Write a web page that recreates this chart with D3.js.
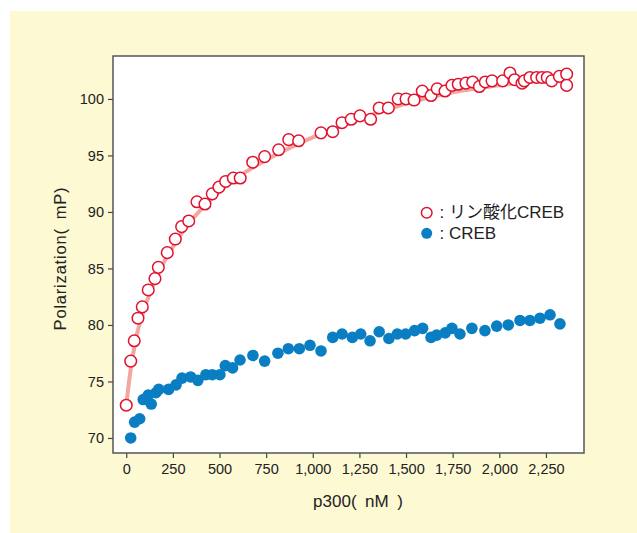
<!DOCTYPE html>
<html>
<head>
<meta charset="utf-8">
<script src="https://cdn.jsdelivr.net/npm/d3@7"></script>
<style>
  html, body { margin: 0; padding: 0; background: #ffffff; }
  svg { display: block; }
  text { font-family: "Liberation Sans", Arial, "Noto Sans CJK JP", sans-serif; fill: #222; }
</style>
</head>
<body>
<script>
// Phosphorylated CREB binding to p300 (open red circles)
const phosX = [0, 24, 43, 63, 86, 118, 154, 172, 220, 263, 297, 335, 379, 422, 461, 497, 533, 574, 611,
  678, 742, 817, 871, 924, 1044, 1107, 1157, 1206, 1253, 1310, 1356, 1405, 1458, 1500, 1543, 1587, 1634,
  1667, 1709, 1746, 1780, 1821, 1857, 1893, 1925, 1961, 2018, 2057, 2082, 2122, 2134, 2164, 2200, 2229,
  2257, 2281, 2322, 2361, 2361];
const phosY = [72.9, 76.8, 78.6, 80.6, 81.6, 83.1, 84.1, 85.1, 86.4, 87.6, 88.7, 89.2, 90.9, 90.7, 91.6,
  92.2, 92.7, 93.0, 93.0, 94.4, 94.9, 95.5, 96.4, 96.3, 97.0, 97.1, 97.9, 98.2, 98.5, 98.2, 99.2, 99.2,
  100.0, 100.0, 99.9, 100.7, 100.3, 100.9, 100.7, 101.2, 101.3, 101.4, 101.5, 101.1, 101.5, 101.6, 101.6,
  102.3, 101.7, 101.4, 101.6, 101.9, 101.9, 101.9, 101.9, 101.6, 102.0, 102.2, 101.2];

// Unphosphorylated CREB (filled blue circles)
const crebX = [24, 45, 72, 91, 118, 134, 159, 174, 227, 267, 299, 345, 384, 427, 461, 502, 531, 570, 610,
  679, 742, 813, 869, 928, 985, 1044, 1107, 1157, 1212, 1257, 1307, 1356, 1408, 1453, 1498, 1546, 1589,
  1634, 1664, 1710, 1746, 1789, 1853, 1923, 1986, 2048, 2111, 2164, 2218, 2272, 2325];
const crebY = [70.0, 71.4, 71.7, 73.4, 73.8, 73.0, 74.0, 74.3, 74.3, 74.7, 75.3, 75.4, 75.1, 75.6, 75.6,
  75.6, 76.4, 76.2, 76.9, 77.3, 76.8, 77.5, 77.9, 77.9, 78.2, 77.7, 78.9, 79.2, 78.9, 79.2, 78.6, 79.4,
  78.8, 79.2, 79.2, 79.5, 79.7, 78.9, 79.1, 79.3, 79.7, 79.2, 79.7, 79.5, 79.9, 80.0, 80.4, 80.4, 80.6,
  80.9, 80.1];

// Binding curve drawn through the phosphorylated series
const fitX = [0, 25, 50, 100, 150, 200, 250, 300, 400, 500, 600, 750, 1000, 1250, 1500, 1750, 2000, 2250, 2370];
const fitY = [72.9, 76.2, 78.6, 81.6, 83.7, 85.5, 86.9, 88.2, 90.2, 91.8, 93.1, 94.6, 96.6, 98.2, 99.6, 100.6, 101.2, 101.7, 101.9];

const xTicks = [0, 250, 500, 750, 1000, 1250, 1500, 1750, 2000, 2250];
const yTicks = [70, 75, 80, 85, 90, 95, 100];
const legendLabels = [": リン酸化CREB", ": CREB"];

const W = 637, H = 533;
const plot = { left: 113, right: 584, top: 56, bottom: 453 };

const svg = d3.select("body").append("svg").attr("width", W).attr("height", H);

svg.append("rect").attr("x", 10).attr("y", 11).attr("width", W - 10).attr("height", H - 11)
  .attr("fill", "#fdf9d3");
svg.append("rect").attr("x", plot.left).attr("y", plot.top)
  .attr("width", plot.right - plot.left).attr("height", plot.bottom - plot.top)
  .attr("fill", "#ffffff");

const x = d3.scaleLinear().domain([-71, 2454]).range([plot.left, plot.right]);
const y = d3.scaleLinear().domain([68.67, 103.8]).range([plot.bottom, plot.top]);

// Axes
const fmt = d3.format(",");
const xAxis = svg.append("g").attr("transform", `translate(0,${plot.bottom})`)
  .call(d3.axisBottom(x).tickValues(xTicks).tickFormat(fmt).tickSize(5).tickPadding(6));
const yAxis = svg.append("g").attr("transform", `translate(${plot.left},0)`)
  .call(d3.axisLeft(y).tickValues(yTicks).tickSize(5).tickPadding(4));
[xAxis, yAxis].forEach(g => {
  g.select(".domain").remove();
  g.selectAll(".tick line").attr("stroke", "#444").attr("stroke-width", 1.2);
  g.selectAll(".tick text").attr("font-size", 14.5).attr("fill", "#222")
    .style("font-family", "'Liberation Sans', Arial, sans-serif");
});

// Frame
svg.append("rect").attr("x", plot.left).attr("y", plot.top)
  .attr("width", plot.right - plot.left).attr("height", plot.bottom - plot.top)
  .attr("fill", "none").attr("stroke", "#555").attr("stroke-width", 1.5);

// Fitted curve
const fitData = fitX.map((v, i) => [v, fitY[i]]);
svg.append("path").datum(fitData)
  .attr("d", d3.line().x(d => x(d[0])).y(d => y(d[1])).curve(d3.curveMonotoneX))
  .attr("fill", "none").attr("stroke", "#f2a79f").attr("stroke-width", 4)
  .attr("stroke-linecap", "round");

// Blue series
svg.append("g").selectAll("circle").data(crebX.map((v, i) => [v, crebY[i]])).join("circle")
  .attr("cx", d => x(d[0])).attr("cy", d => y(d[1])).attr("r", 5.8)
  .attr("fill", "#0a7ec3");

// Red open series
svg.append("g").selectAll("circle").data(phosX.map((v, i) => [v, phosY[i]])).join("circle")
  .attr("cx", d => x(d[0])).attr("cy", d => y(d[1])).attr("r", 5.8)
  .attr("fill", "#ffffff").attr("stroke", "#e0132f").attr("stroke-width", 1.5);

// Legend
const lg = svg.append("g");
lg.append("circle").attr("cx", 426.7).attr("cy", 212.7).attr("r", 5.3)
  .attr("fill", "#fff").attr("stroke", "#e0132f").attr("stroke-width", 1.5);
lg.append("circle").attr("cx", 426.7).attr("cy", 233.3).attr("r", 5.5).attr("fill", "#0a7ec3");
lg.append("text").attr("x", 439.5).attr("y", 217.8).attr("font-size", 17).text(legendLabels[0]);
lg.append("text").attr("x", 439.5).attr("y", 239).attr("font-size", 17).text(legendLabels[1]);

// Axis titles
svg.append("text").attr("x", 358).attr("y", 506.5).attr("text-anchor", "middle")
  .attr("font-size", 17).text("p300(\u2002nM\u2002)");
svg.append("text").attr("transform", "translate(65.5,258.5) rotate(-90)").attr("text-anchor", "middle")
  .attr("font-size", 16.5).attr("letter-spacing", 0.8).text("Polarization(\u2002mP)");
</script>
</body>
</html>
